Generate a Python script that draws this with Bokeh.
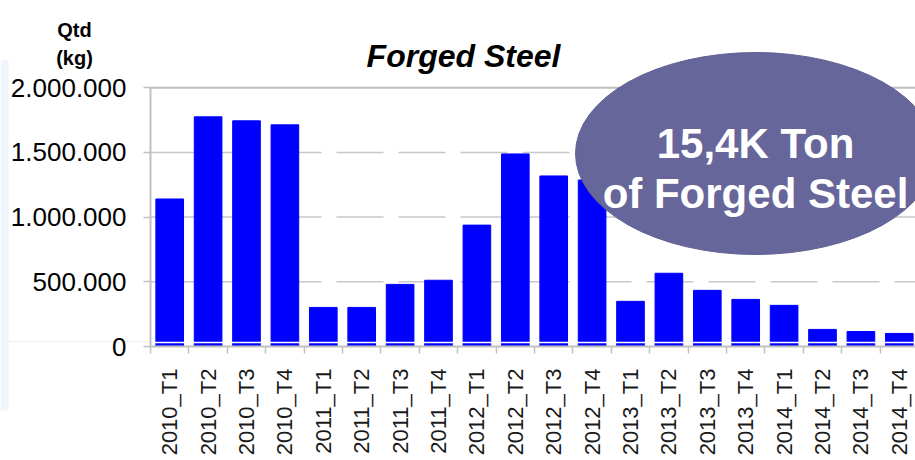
import math
from bokeh.plotting import figure
from bokeh.models import FixedTicker, Label, ColumnDataSource, Range1d, BoxAnnotation
from bokeh.embed import file_html
from bokeh.resources import INLINE

categories = ["2010_T1", "2010_T2", "2010_T3", "2010_T4",
              "2011_T1", "2011_T2", "2011_T3", "2011_T4",
              "2012_T1", "2012_T2", "2012_T3", "2012_T4",
              "2013_T1", "2013_T2", "2013_T3", "2013_T4",
              "2014_T1", "2014_T2", "2014_T3", "2014_T4"]
quantities_kg = [1140000, 1775000, 1744000, 1713000,
                 302000, 302000, 480000, 512000,
                 938000, 1488000, 1318000, 1287000,
                 349000, 566000, 434000, 364000,
                 318000, 132000, 116000, 101000]
y_ticks = [0, 500000, 1000000, 1500000, 2000000]
y_tick_labels = ["0", "500.000", "1.000.000", "1.500.000", "2.000.000"]
title_text = "Forged Steel"
unit_lines = ["Qtd", "(kg)"]
callout_lines = ["15,4K Ton", "of Forged Steel"]

FONT = "Liberation Sans"
GRAY = "#c0c0c0"
CAT_PX = 38.4               # pixels per category
PX_PER_UNIT = 129.4 / 1e6   # vertical pixels per kg
AXIS_X_PX = 150             # canvas x of the value axis
BASE_Y_PX = 346             # canvas y of the zero line

def xv(px):
    return (px - AXIS_X_PX) / CAT_PX

def yv(py):
    return (BASE_Y_PX - py) / PX_PER_UNIT

n = len(categories)
centers = [i + 0.5 for i in range(n)]
boundaries = list(range(n + 1))

src = ColumnDataSource(dict(x=centers, top=quantities_kg, cat=categories))

p = figure(width=915, height=460, output_backend="svg", toolbar_location=None,
           x_range=Range1d(xv(0), xv(915)), y_range=Range1d(yv(460), yv(0)),
           min_border_left=0, min_border_right=0, min_border_top=0,
           min_border_bottom=0)
p.outline_line_color = None
p.background_fill_color = "white"
p.border_fill_color = "white"
p.xgrid.visible = False
p.ygrid.visible = False

# faint page decorations on the left
p.add_layout(BoxAnnotation(left=xv(0), right=xv(8), bottom=yv(410), top=yv(60),
                           fill_color="#eef5fc", fill_alpha=1,
                           line_color=None, level="underlay"))
p.segment(x0=[xv(8)], x1=[0], y0=[yv(341)], y1=[yv(341)], line_color="#eef0f2",
          line_width=1, level="underlay")

# dashed gridlines and solid top line, only over the plot area
grid_vals = y_ticks[1:-1]
p.segment(x0=[boundaries[0]] * len(grid_vals), x1=[boundaries[-1] + 1] * len(grid_vals),
          y0=grid_vals, y1=grid_vals, line_color="#c8c8c8", line_width=1.5,
          line_dash="47 15", level="underlay")
p.segment(x0=[boundaries[0]], x1=[boundaries[-1] + 1], y0=[y_ticks[-1]],
          y1=[y_ticks[-1]], line_color=GRAY, line_width=2, level="underlay")

p.vbar(x="x", top="top", width=0.72, source=src, color="#0000FF")

# thin white line across bars just above the base
p.segment(x0=[boundaries[0]], x1=[boundaries[-1] + 1], y0=[yv(342)], y1=[yv(342)],
          line_color="white", line_width=1.5)

# y axis (drawn at the first category boundary)
yax = p.yaxis[0]
yax.fixed_location = boundaries[0]
yax.ticker = FixedTicker(ticks=y_ticks)
yax.major_label_overrides = dict(zip(y_ticks, y_tick_labels))
yax.bounds = (y_ticks[0], y_ticks[-1])
yax.axis_line_color = GRAY
yax.axis_line_width = 2
yax.major_tick_line_color = GRAY
yax.major_tick_line_width = 1.5
yax.major_tick_out = 7
yax.major_tick_in = 0
yax.minor_tick_line_color = None
yax.major_label_text_font = FONT
yax.major_label_text_font_size = "26px"
yax.major_label_text_color = "#000000"
yax.major_label_standoff = 17

# x axis (drawn at zero)
xax = p.xaxis[0]
xax.fixed_location = y_ticks[0]
xax.ticker = FixedTicker(ticks=centers, minor_ticks=boundaries)
xax.major_label_overrides = dict(zip(centers, categories))
xax.major_label_orientation = math.pi / 2
xax.bounds = (boundaries[0], boundaries[-1] + 1)
xax.axis_line_color = GRAY
xax.axis_line_width = 2
xax.major_tick_out = 0
xax.major_tick_in = 0
xax.major_tick_line_color = None
xax.minor_tick_out = 7
xax.minor_tick_in = 0
xax.minor_tick_line_color = GRAY
xax.minor_tick_line_width = 1.5
xax.major_label_text_font = FONT
xax.major_label_text_font_size = "22px"
xax.major_label_text_color = "#1a1a1a"
xax.major_label_standoff = 15

# title
p.add_layout(Label(x=xv(463), y=yv(55), text=title_text,
                   text_font=FONT, text_font_size="32px",
                   text_font_style="bold italic", text_align="center",
                   text_baseline="alphabetic", text_color="black"))
# unit label
for line, base in zip(unit_lines, [29, 57]):
    p.add_layout(Label(x=xv(74), y=yv(base), text=line,
                       text_font=FONT, text_font_size="20px", text_font_style="bold",
                       text_align="center", text_baseline="alphabetic",
                       text_color="black"))

# call-out ellipse
cx = xv(755)
p.ellipse(x=[cx], y=[yv(153)], width=360, height=202,
          width_units="screen", height_units="screen",
          fill_color="#66669a", line_color="#5f5f92", line_width=1)
for line, base in zip(callout_lines, [143, 193]):
    p.add_layout(Label(x=cx, y=yv(base), text=line,
                       text_font=FONT, text_font_size="42px", text_font_style="bold",
                       text_align="center", text_baseline="alphabetic",
                       text_color="white"))

open("out.html", "w").write(file_html(p, INLINE))
